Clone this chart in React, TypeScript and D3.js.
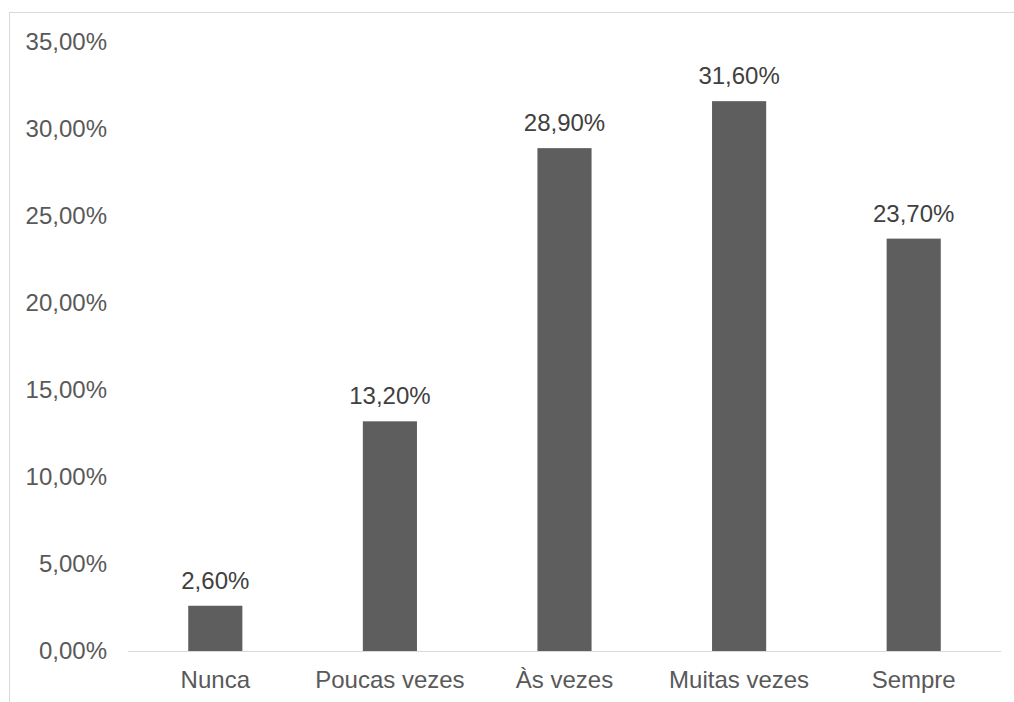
import React from "react";
import * as d3 from "d3";

const categories = ["Nunca", "Poucas vezes", "Às vezes", "Muitas vezes", "Sempre"];
const values = [2.6, 13.2, 28.9, 31.6, 23.7];
const yTicks = [0, 5, 10, 15, 20, 25, 30, 35];

const W = 1014;
const H = 702;
const plot = { left: 128, right: 1001, top: 42, bottom: 651 };

const fmt = (v: number) => v.toFixed(2).replace(".", ",") + "%";

export default function App() {
  const x = d3
    .scaleBand<string>()
    .domain(categories)
    .range([plot.left, plot.right])
    .paddingInner(0.69)
    .paddingOuter(0.345);
  const y = d3.scaleLinear().domain([0, 35]).range([plot.bottom, plot.top]);
  const font = "'Liberation Sans', Arial, sans-serif";

  return (
    <svg
      width={W}
      height={H}
      style={{ position: "absolute", left: 0, top: 0, background: "#fff" }}
      fontFamily={font}
    >
      <rect x={9.5} y={12.5} width={1200} height={1000} fill="#fff" stroke="#d9d9d9" strokeWidth={1} />
      {yTicks.map((t) => (
        <text
          key={t}
          x={107}
          y={y(t)}
          dy="0.35em"
          textAnchor="end"
          fontSize={24}
          fill="#595959"
        >
          {fmt(t)}
        </text>
      ))}
      <line x1={plot.left} x2={plot.right} y1={plot.bottom + 0.5} y2={plot.bottom + 0.5} stroke="#d9d9d9" strokeWidth={1} />
      {categories.map((c, i) => {
        const bx = x(c)!;
        const bw = x.bandwidth();
        return (
          <g key={c}>
            <rect x={bx} y={y(values[i])} width={bw} height={y(0) - y(values[i])} fill="#5e5e5e" />
            <text
              x={bx + bw / 2}
              y={y(values[i]) - 17}
              textAnchor="middle"
              fontSize={24}
              fill="#404040"
            >
              {fmt(values[i])}
            </text>
            <text x={bx + bw / 2} y={688} textAnchor="middle" fontSize={24} fill="#595959">
              {c}
            </text>
          </g>
        );
      })}
    </svg>
  );
}
